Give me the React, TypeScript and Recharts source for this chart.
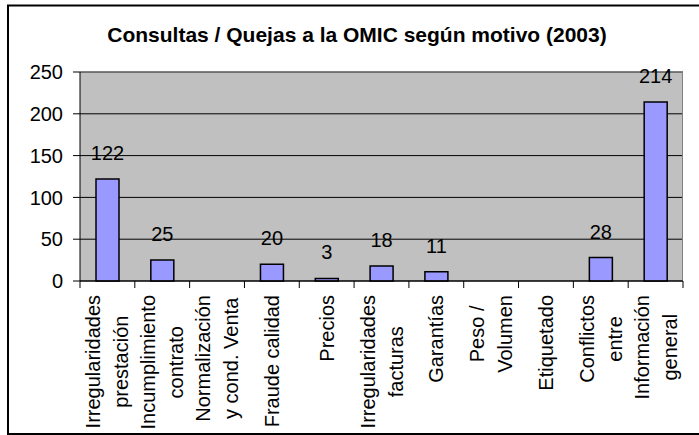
import { BarChart, Bar, XAxis, YAxis, CartesianGrid, LabelList, ReferenceLine } from "recharts"

const motivos = [
  "Irregularidades\nprestación",
  "Incumplimiento\ncontrato",
  "Normalización\ny cond. Venta",
  "Fraude calidad",
  "Precios",
  "Irregularidades\nfacturas",
  "Garantías",
  "Peso /\nVolumen",
  "Etiquetado",
  "Conflictos\nentre",
  "Información\ngeneral",
]
const consultas = [122, 25, null, 20, 3, 18, 11, null, null, 28, 214]
const yTicks = [0, 50, 100, 150, 200, 250]

const data = motivos.map((motivo, i) => ({ motivo, valor: consultas[i] }))

const FONT = "'Liberation Sans', Arial, sans-serif"
const PLOT_LEFT = 80
const PLOT_RIGHT = 683
const AXIS_Y = 281
const band = (PLOT_RIGHT - PLOT_LEFT) / motivos.length

let ctx: CanvasRenderingContext2D | null = null
function measure(s: string) {
  if (!ctx) ctx = document.createElement("canvas").getContext("2d")
  if (!ctx) return s.length * 10
  ctx.font = `20px ${FONT}`
  return ctx.measureText(s).width
}

function MotivoTick(props: any) {
  const { x, payload, index } = props
  const lines = String(payload.value).split("\n")
  const len = Math.max(...lines.map(measure))
  const cy = AXIS_Y + 14 + len / 2
  const left = x - band / 2
  return (
    <g>
      <line x1={left} x2={left} y1={AXIS_Y} y2={AXIS_Y + 7} stroke="#000" />
      {index === motivos.length - 1 && (
        <line x1={x + band / 2} x2={x + band / 2} y1={AXIS_Y} y2={AXIS_Y + 7} stroke="#000" />
      )}
      {lines.map((line, i) => {
        // rotated text: baseline sits to the right of the glyphs
        const bx = x + (i - (lines.length - 1) / 2) * 28 + 7
        return (
          <text
            key={i}
            transform={`translate(${bx}, ${cy}) rotate(-90)`}
            textAnchor="middle"
            fontSize={20}
            fontFamily={FONT}
            fill="#000"
          >
            {line}
          </text>
        )
      })}
    </g>
  )
}

export default function App() {
  return (
    <div style={{ position: "absolute", left: 0, top: 0, width: 699, height: 435, background: "#fff" }}>
      <BarChart width={699} height={435} data={data} margin={{ top: 72, right: 699 - PLOT_RIGHT, left: 0, bottom: 0 }}>
        <CartesianGrid fill="#C0C0C0" fillOpacity={1} stroke="#000" vertical={false} />
        <CartesianGrid horizontal={false} verticalPoints={[PLOT_RIGHT - 0.5]} stroke="#808080" />
        <ReferenceLine y={250} stroke="#808080" />
        <XAxis
          dataKey="motivo"
          height={435 - AXIS_Y}
          interval={0}
          tickLine={false}
          axisLine={{ stroke: "#000" }}
          tick={<MotivoTick />}
        />
        <YAxis
          width={PLOT_LEFT}
          domain={[0, 250]}
          ticks={yTicks}
          tickSize={7}
          tickMargin={10}
          axisLine={{ stroke: "#000" }}
          tickLine={{ stroke: "#000" }}
          tick={{ fill: "#000", fontSize: 20, fontFamily: FONT }}
        />
        <Bar dataKey="valor" fill="#9999FF" stroke="#000" strokeWidth={1.5} barSize={23} isAnimationActive={false}>
          <LabelList dataKey="valor" position="top" offset={19} fill="#000" fontSize={20} fontFamily={FONT} />
        </Bar>
      </BarChart>
      <svg width={699} height={435} style={{ position: "absolute", left: 0, top: 0, pointerEvents: "none" }}>
        <rect x={8} y={5.5} width={700} height={428.5} fill="none" stroke="#000" strokeWidth={2} />
        <text x={357} y={42} textAnchor="middle" fontSize={21} fontWeight="bold" fontFamily={FONT} fill="#000">
          Consultas / Quejas a la OMIC según motivo (2003)
        </text>
      </svg>
    </div>
  )
}
